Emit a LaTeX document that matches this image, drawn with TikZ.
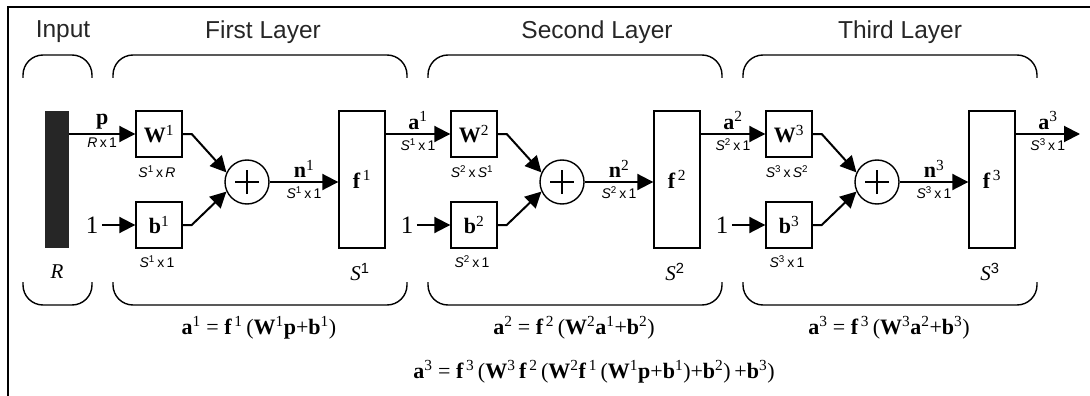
\documentclass[tikz,border=0pt]{standalone}
\usepackage{fontspec}
\setmainfont{Liberation Serif}
\setsansfont{Liberation Sans}
\usetikzlibrary{arrows.meta}

\newcommand{\sx}[1]{\textsuperscript{\sffamily #1}}
\newcommand{\Sd}[1]{\textit{S}\sx{#1}}
\newcommand{\bsup}[2]{\textbf{#1}\textsuperscript{#2}}

\tikzset{
  arr/.style={line width=2pt, -{Triangle[length=16pt,width=16pt]}},
  box/.style={draw, line width=1.4pt, minimum width=46pt, minimum height=46pt, inner sep=0pt, font=\fontsize{22}{22}\selectfont},
  tall/.style={box, minimum height=137pt},
  sumnode/.style={draw, circle, line width=1.4pt, minimum size=44pt, inner sep=0pt,
    path picture={\draw[line width=1.6pt] ([xshift=-12pt]path picture bounding box.center) -- ([xshift=12pt]path picture bounding box.center)
      ([yshift=-12pt]path picture bounding box.center) -- ([yshift=12pt]path picture bounding box.center);}},
  lab/.style={font=\fontsize{22}{22}\selectfont},
  onelab/.style={font=\fontsize{25}{25}\selectfont},
  dimlab/.style={font=\sffamily\fontsize{14}{14}\selectfont},
  sizelab/.style={font=\fontsize{21}{21}\selectfont},
  head/.style={font=\sffamily\fontsize{24.5}{24.5}\selectfont, text=black!85},
  brace/.style={line width=1.4pt, rounded corners=20pt},
}

\begin{document}
\begin{tikzpicture}[x=1pt,y=-1pt]
  \useasboundingbox (0,0) rectangle (1090,396);
  \draw[line width=2pt] (8,396) -- (8,7) -- (1090,7);

  % input
  \node[fill=black!85, minimum width=24pt, minimum height=137pt, inner sep=0pt] (inp) at (57,179.5) {};
  \node[sizelab] (R) at (57,272) {\textit{R}};
  \node[head] (hin) at (63,32) {Input};
  \draw[brace] (23,78) -- (23,55) -- (92,55) -- (92,78);
  \draw[brace] (23,282) -- (23,305) -- (92,305) -- (92,282);

  % layers
  \foreach \l/\inlab/\indim/\wdim/\src/\hname/\hx in {
      1/{\textbf{p}}/{\textit{R}\,x\,1}/{\Sd{1}\,x\,\textit{R}}/inp/First Layer/263,
      2/{\bsup{a}{1}}/{\Sd{1}\,x\,1}/{\Sd{2}\,x\,\Sd{1}}/f1/Second Layer/597,
      3/{\bsup{a}{2}}/{\Sd{2}\,x\,1}/{\Sd{3}\,x\,\Sd{2}}/f2/Third Layer/900}{
    \pgfmathsetmacro\o{315*(\l-1)}
    \node[box] (W\l) at (159+\o,134) {\bsup{W}{\l}};
    \node[box] (b\l) at (159+\o,225) {\bsup{b}{\l}};
    \node[sumnode] (S\l) at (247+\o,182) {};
    \node[tall] (f\l) at (362+\o,179.5) {\bsup{f}{\,\l}};
    \node[onelab] (one\l) at (92+\o,225) {1};
    \node[dimlab] (Wd\l) at (157+\o,172) {\wdim};
    \node[dimlab] (bd\l) at (157+\o,262) {\Sd{\l}\,x\,1};
    \node[sizelab] (fd\l) at (360+\o,272) {\Sd{\l}};
    \node[head] (h\l) at (\hx,32) {\hname};
    \node[lab] (eq\l) at (259+\o,328) {\bsup{a}{\l} = \bsup{f}{\,\l}\,(\bsup{W}{\l}\inlab+\bsup{b}{\l})};
    \draw[brace] (113+\o,78) -- (113+\o,55) -- (407+\o,55) -- (407+\o,78);
    \draw[brace] (113+\o,282) -- (113+\o,305) -- (407+\o,305) -- (407+\o,282);
    \draw[arr] (\src.east |- W\l) -- (W\l.west)
      node[midway,above,lab]{\inlab} node[midway,below,dimlab]{\indim};
    \draw[arr] (one\l) -- (b\l);
    \draw[arr] (W\l.east) -- ++(9,0) -- (S\l.155);
    \draw[arr] (b\l.east) -- ++(9,0) -- (S\l.205);
    \draw[arr] (S\l) -- (f\l.west |- S\l)
      node[midway,above,lab]{\bsup{n}{\l}} node[midway,below,dimlab]{\Sd{\l}\,x\,1};
  }

  % output
  \coordinate (out) at (1080,134);
  \draw[arr] (f3.east |- out) -- (out)
    node[midway,above,lab]{\bsup{a}{3}} node[midway,below,dimlab]{\Sd{3}\,x\,1};
  \node[lab] (eqall) at (594,372) {\bsup{a}{3} = \bsup{f}{\,3}\,(\bsup{W}{3}\,\bsup{f}{\,2}\,(\bsup{W}{2}\bsup{f}{\,1}\,(\bsup{W}{1}\textbf{p}+\bsup{b}{1})+\bsup{b}{2})\,+\bsup{b}{3})};
\end{tikzpicture}
\end{document}
